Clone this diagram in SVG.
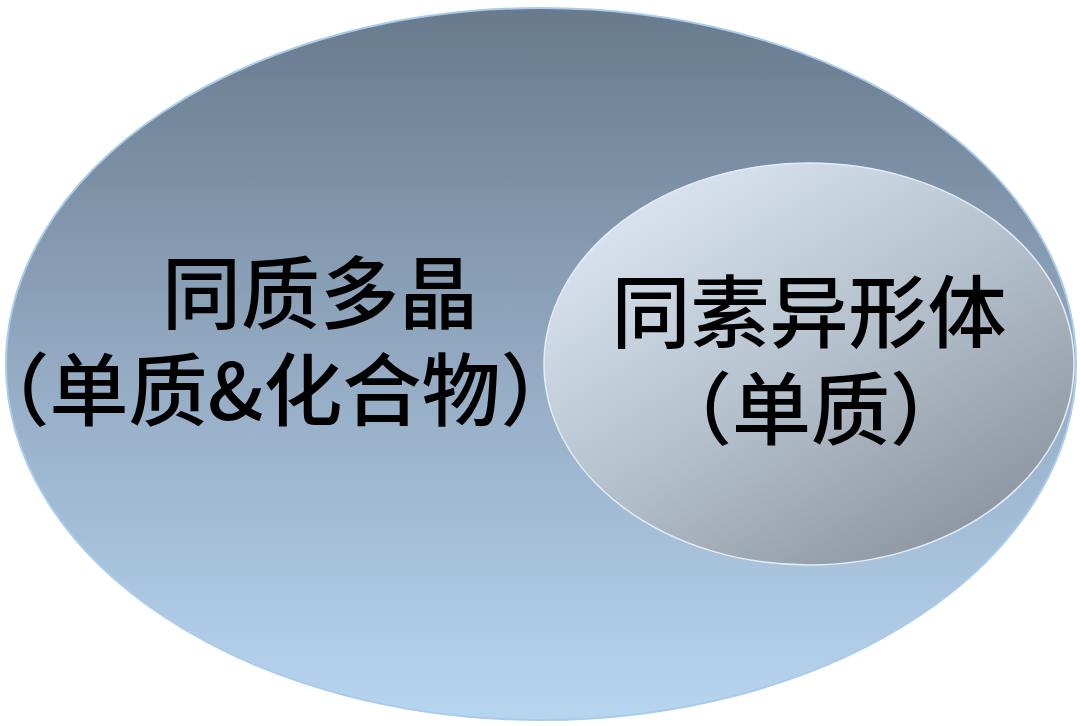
<svg xmlns="http://www.w3.org/2000/svg" width="1080" height="726" viewBox="0 0 1080 726">
<defs>
<linearGradient id="gBig" x1="0" y1="0" x2="0" y2="1">
<stop offset="0" stop-color="#687a8c"/>
<stop offset="0.5" stop-color="#93aac2"/>
<stop offset="1" stop-color="#b8d5f0"/>
</linearGradient>
<linearGradient id="gSmall" x1="0.15" y1="0.1" x2="0.85" y2="0.95">
<stop offset="0" stop-color="#d9e4f0"/>
<stop offset="0.5" stop-color="#b3bfcb"/>
<stop offset="1" stop-color="#8a939d"/>
</linearGradient>
<style>
.lbl{font-family:"Noto Sans CJK SC","Noto Sans",sans-serif;font-weight:500;font-size:79px;fill:#000;text-anchor:middle}
</style>
</defs>
<rect width="1080" height="726" fill="#ffffff"/>
<g id="polymorph">
<ellipse cx="541" cy="364" rx="535" ry="356" fill="url(#gBig)" stroke="#a9cbec" stroke-width="2"/>
<text class="lbl" x="320" y="323">同质多晶</text>
<text class="lbl" x="275" y="420">（单质&amp;化合物）</text>
</g>
<g id="allotrope">
<ellipse cx="809" cy="364" rx="265" ry="201" fill="url(#gSmall)" stroke="#e6ecf3" stroke-width="1.5"/>
<text class="lbl" x="809" y="342">同素异形体</text>
<text class="lbl" x="811" y="439">（单质）</text>
</g>
<g id="connectors"/>
</svg>
